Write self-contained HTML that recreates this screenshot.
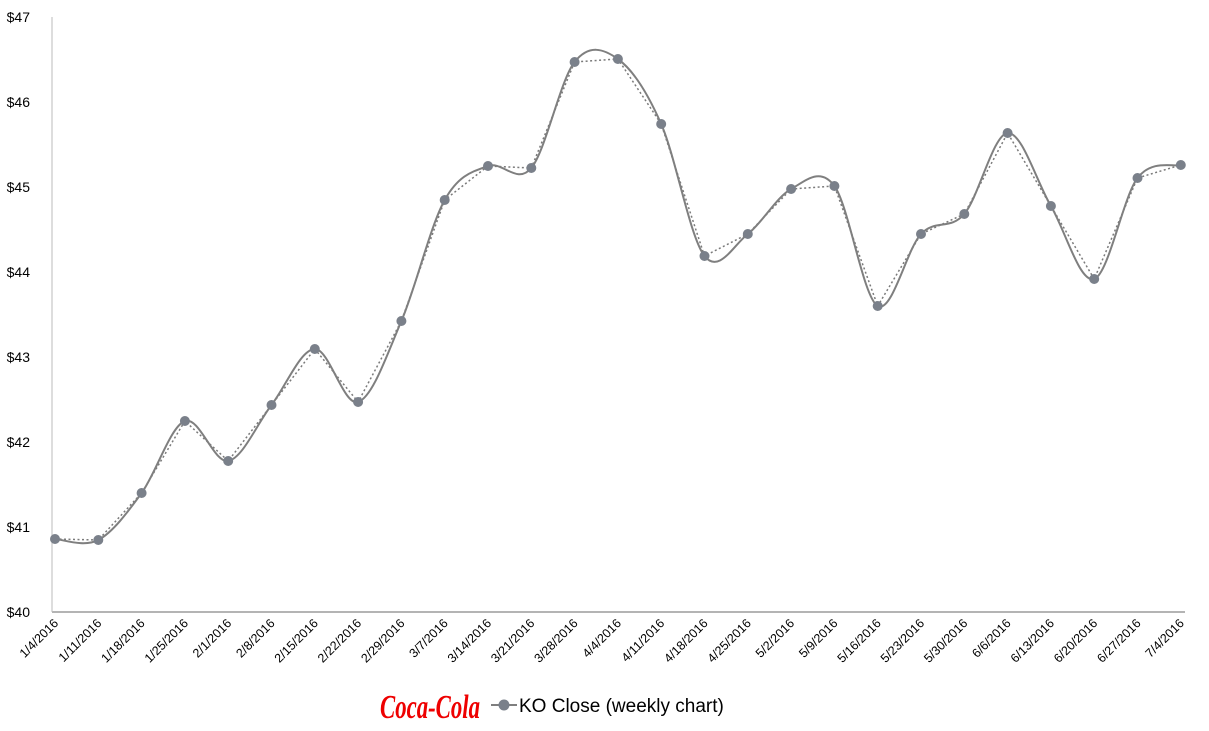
<!DOCTYPE html>
<html><head><meta charset="utf-8"><style>
html,body{margin:0;padding:0;background:#fff;}
svg{display:block;font-family:"Liberation Sans",Calibri,sans-serif;}
</style></head><body>
<svg id="c" width="1209" height="731" viewBox="0 0 1209 731">
<line x1="52" y1="612" x2="1185" y2="612" stroke="#888" stroke-width="1.3"/>
<line x1="52" y1="17" x2="52" y2="612" stroke="#bbb" stroke-width="1"/>
<g font-size="14" fill="#000" text-anchor="end">
<text x="30" y="617">$40</text><text x="30" y="532">$41</text><text x="30" y="447">$42</text>
<text x="30" y="362">$43</text><text x="30" y="277">$44</text><text x="30" y="192">$45</text>
<text x="30" y="107">$46</text><text x="30" y="22">$47</text>
</g>
<g id="xl" font-size="12.5" fill="#000" text-anchor="end"></g>
<path id="dot" fill="none" stroke="#7a7a7a" stroke-width="1.5" stroke-dasharray="2,2.5"/>
<path id="sm" fill="none" stroke="#7f7f7f" stroke-width="2"/>
<g id="pts" fill="#7a808a"></g>
<text x="380" y="718" font-family="Liberation Serif,serif" font-style="italic" font-weight="bold" font-size="34" fill="#e00" textLength="100" lengthAdjust="spacingAndGlyphs">Coca-Cola</text>
<line x1="491" y1="705" x2="517" y2="705" stroke="#7f7f7f" stroke-width="2"/>
<circle cx="504" cy="705" r="5.5" fill="#7a808a"/>
<text x="519" y="712" font-size="19" fill="#000">KO Close (weekly chart)</text>
</svg>
<script>
var labels=["1/4/2016","1/11/2016","1/18/2016","1/25/2016","2/1/2016","2/8/2016","2/15/2016","2/22/2016","2/29/2016","3/7/2016","3/14/2016","3/21/2016","3/28/2016","4/4/2016","4/11/2016","4/18/2016","4/25/2016","5/2/2016","5/9/2016","5/16/2016","5/23/2016","5/30/2016","6/6/2016","6/13/2016","6/20/2016","6/27/2016","7/4/2016"];
var ys=[539,540,493,421,461,405,349,402,321,200,166,168,62,59,124,256,234,189,186,306,234,214,133,206,279,178,165];
var ns="http://www.w3.org/2000/svg",P=[];
for(var i=0;i<ys.length;i++){P.push([55+i*43.3,ys[i]]);}
var xl=document.getElementById("xl"),pts=document.getElementById("pts");
P.forEach(function(p,i){
 var t=document.createElementNS(ns,"text");t.setAttribute("x",p[0]+4);t.setAttribute("y",624);
 t.setAttribute("transform","rotate(-45 "+(p[0]+4)+" 624)");t.textContent=labels[i];xl.appendChild(t);
 var c=document.createElementNS(ns,"circle");c.setAttribute("cx",p[0]);c.setAttribute("cy",p[1]);c.setAttribute("r",5);pts.appendChild(c);
});
var d="M"+P[0][0]+","+P[0][1],s="M"+P[0][0]+","+P[0][1];
for(var i=0;i<P.length-1;i++){
 var p0=P[i-1]||P[i],p1=P[i],p2=P[i+1],p3=P[i+2]||P[i+1],k=6;
 d+="C"+(p1[0]+(p2[0]-p0[0])/k)+","+(p1[1]+(p2[1]-p0[1])/k)+" "+(p2[0]-(p3[0]-p1[0])/k)+","+(p2[1]-(p3[1]-p1[1])/k)+" "+p2[0]+","+p2[1];
 s+="L"+p2[0]+","+p2[1];
}
document.getElementById("sm").setAttribute("d",d);
document.getElementById("dot").setAttribute("d",s);
</script>
</body></html>
